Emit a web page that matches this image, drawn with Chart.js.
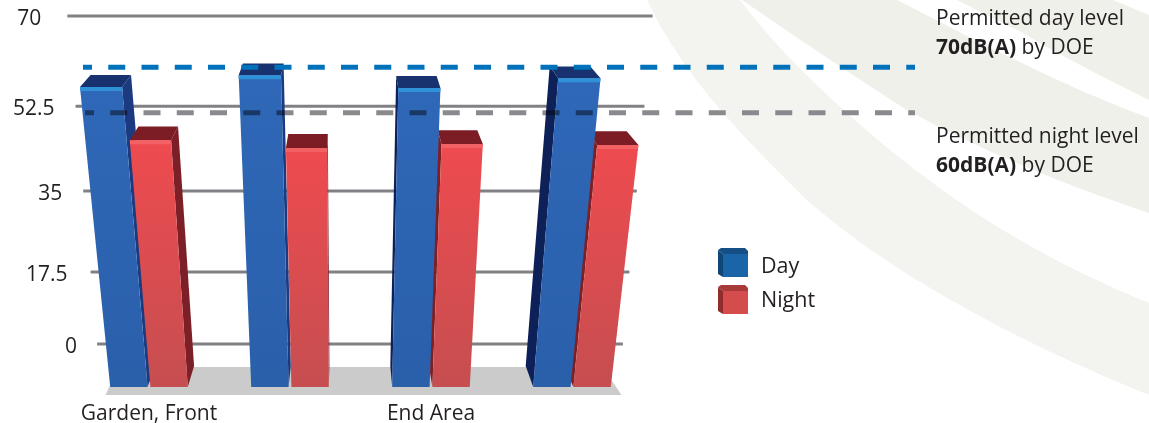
<!DOCTYPE html>
<html>
<head>
<meta charset="utf-8">
<title>Noise levels</title>
<script src="https://cdn.jsdelivr.net/npm/chart.js@4/dist/chart.umd.js"></script>
<style>
  html, body { margin: 0; background: #fff; }
  #wrap { position: relative; width: 1149px; height: 423px; overflow: hidden; }
  #wrap svg, #wrap canvas { position: absolute; left: 0; top: 0; }
</style>
</head>
<body>
<div id="wrap">
  <!-- pale swooshes behind the chart -->
  <svg width="1149" height="423" viewBox="0 0 1149 423">
    <path fill="#f3f4ef" d="M647 0 C680 70 735 130 807 200 C880 265 1000 335 1149 395 L1149 303 C1040 258 950 205 847 113 C805 75 770 40 740 0 Z"/>
    <path fill="#eff0ea" d="M742 0 C800 40 860 80 907 110 C980 150 1060 183 1149 213 L1149 118 C1060 85 975 40 897 0 Z"/>
    <path fill="#eff0ea" d="M957 0 L1023 33 C1065 58 1105 78 1149 100 L1149 15 L1113 0 Z"/>
  </svg>
  <canvas id="chart" width="1149" height="423"></canvas>
</div>
<script>
const categories = ["Garden, Front", "", "End Area", ""];
const dayValues = [56.2, 58.5, 56, 57.9];
const nightValues = [45.5, 43.9, 44.7, 44.5];
const tickValues = [70, 52.5, 35, 17.5, 0];
const dayLimit = 70;
const nightLimit = 60;
const noteLines = [
  ["Permitted day level", ""],
  ["70dB(A)", " by DOE"],
  ["Permitted night level", ""],
  ["60dB(A)", " by DOE"]
];

const FONT = '"Open Sans", sans-serif';
const INK = "#231f20";
const floorValue = -10.4;

// value -> height in the plot, the chart leans back so rows get shorter towards the floor
const heightStops = [[floorValue, 0], [0, 0.116], [17.5, 0.31], [35, 0.528], [52.5, 0.757], [70, 1]];

class ForeshortenedScale extends Chart.LinearScale {
  static id = "foreshortened";
  static defaults = Chart.LinearScale.defaults;
  getPixelForValue(value) {
    for (let i = 1; i < heightStops.length; i++) {
      const [v0, h0] = heightStops[i - 1];
      const [v1, h1] = heightStops[i];
      if (value <= v1) return this.getPixelForDecimal(h0 + (value - v0) / (v1 - v0) * (h1 - h0));
    }
    return this.getPixelForDecimal(1);
  }
}
Chart.register(ForeshortenedScale);

const barLook = {
  Day: { top: "#2f68b8", bottom: "#2a5faa", strip: "#2f92d8", lid: "#18326f", side: "#1b3a80", sideDark: "#0d2158",
         cubeFront: "#1a64a8", cubeSide: "#0f4675", cubeTop: "#134f85" },
  Night: { top: "#ee4b4f", bottom: "#c64e50", strip: "#f26265", lid: "#7c1c24", side: "#7d1f26", sideDark: "#7d1f26",
           cubeFront: "#d44c4b", cubeSide: "#8e2d2c", cubeTop: "#a83b3a" }
};

const BAR_VX = 345, BAR_K = 0.00043, GRID_VX = 360, GRID_K = 0.00035, GRID_HALF = 259;

function lean(x, y, base, vx, k) {
  return vx + (x - vx) * (1 + k * (base - y));
}

function polygon(ctx, pts, fill) {
  ctx.beginPath();
  pts.forEach((p, i) => (i ? ctx.lineTo(p[0], p[1]) : ctx.moveTo(p[0], p[1])));
  ctx.closePath();
  ctx.fillStyle = fill;
  ctx.fill();
}

function drawBar(ctx, bar, look) {
  const { x, y, base, width } = bar.getProps(["x", "y", "base", "width"]);
  const front = (px, py) => [lean(px, py, base, BAR_VX, BAR_K), py];
  // the back of the bar sits towards the vanishing point and further up
  const back = p => [p[0] - (p[0] - BAR_VX) * 0.04, p[1] - (21 - 9 * (base - p[1]) / 300)];

  const tl = front(x - width / 2, y);
  const tr = front(x + width / 2, y);
  const bl = front(x - width / 2, base);
  const br = front(x + width / 2, base);

  if (x < BAR_VX) polygon(ctx, [tr, back(tr), back(br), br], look.side);
  else polygon(ctx, [tl, back(tl), back(bl), bl], look.sideDark);
  polygon(ctx, [tl, tr, back(tr), back(tl)], look.lid);

  const grad = ctx.createLinearGradient(0, y, 0, base);
  grad.addColorStop(0, look.top);
  grad.addColorStop(1, look.bottom);
  polygon(ctx, [tl, tr, br, bl], grad);
  polygon(ctx, [tl, tr, front(x + width / 2, y + 4), front(x - width / 2, y + 4)], look.strip);
}

function drawCube(ctx, x, y, look) {
  polygon(ctx, [[x, y + 2], [x + 5, y + 6], [x + 5, y + 29], [x, y + 26]], look.cubeSide);
  polygon(ctx, [[x, y + 2], [x + 3, y], [x + 27, y], [x + 30, y + 3], [x + 30, y + 6], [x + 5, y + 6]], look.cubeTop);
  ctx.fillStyle = look.cubeFront;
  ctx.fillRect(x + 5, y + 6, 25, 23);
}

const perspectivePlugin = {
  id: "perspective",
  beforeDatasetsDraw(chart) {
    const { ctx, chartArea, scales } = chart;
    const base = chartArea.bottom;
    // floor under the bars
    polygon(ctx, [
      [chartArea.left + 40, base - 20], [chartArea.right - 40, base - 20],
      [chartArea.right - 21, base + 8], [chartArea.left + 27, base + 8]
    ], "#cbcbcb");
    // grid rows narrow towards the floor
    ctx.strokeStyle = "#808085";
    ctx.lineWidth = 3;
    tickValues.forEach(v => {
      const y = scales.y.getPixelForValue(v);
      ctx.beginPath();
      ctx.moveTo(lean(GRID_VX - GRID_HALF, y, base, GRID_VX, GRID_K), y);
      ctx.lineTo(lean(GRID_VX + GRID_HALF, y, base, GRID_VX, GRID_K), y);
      ctx.stroke();
    });
    // bars furthest from the vanishing point go first so the nearer ones cover their sides
    const bars = [];
    chart.data.datasets.forEach((ds, i) => {
      chart.getDatasetMeta(i).data.forEach(bar => bars.push({ bar, look: barLook[ds.label] }));
    });
    bars.sort((a, b) => Math.abs(b.bar.x - BAR_VX) - Math.abs(a.bar.x - BAR_VX));
    bars.forEach(({ bar, look }) => drawBar(ctx, bar, look));
  },
  beforeDatasetDraw() {
    return false;
  },
  afterDatasetsDraw(chart) {
    const { ctx, chartArea, scales } = chart;
    const limit = scales.limit;
    const rule = (value, color, x0, op) => {
      const y = limit.getPixelForValue(value);
      ctx.save();
      ctx.globalCompositeOperation = op;
      ctx.strokeStyle = color;
      ctx.lineWidth = 5;
      ctx.setLineDash([17, 16.25]);
      ctx.lineDashOffset = 8;
      ctx.beginPath();
      ctx.moveTo(x0, y);
      ctx.lineTo(915, y);
      ctx.stroke();
      ctx.restore();
    };
    rule(dayLimit, "#0072bc", 83, "source-over");
    rule(nightLimit, "#8a8a8e", 85, "multiply");

    // axis numbers sit just left of each row
    const insets = [26, 21, 21, 23, 20];
    ctx.font = "21px " + FONT;
    ctx.fillStyle = INK;
    ctx.textBaseline = "middle";
    ctx.textAlign = "right";
    tickValues.forEach((v, i) => {
      const y = scales.y.getPixelForValue(v);
      ctx.fillText(String(v), lean(GRID_VX - GRID_HALF, y, chartArea.bottom, GRID_VX, GRID_K) - insets[i], y + 3);
    });

    // legend
    ctx.textAlign = "left";
    chart.data.datasets.forEach((ds, i) => {
      drawCube(ctx, 718, 248 + i * 37, barLook[ds.label]);
      ctx.fillStyle = INK;
      ctx.font = "21.5px " + FONT;
      ctx.fillText(ds.label, 761, 267 + i * 34);
    });

    // limit notes
    const noteY = [19, 48, 137, 166];
    noteLines.forEach(([bold, plain], i) => {
      let x = 936;
      const first = plain ? bold : "";
      ctx.font = "bold 21px " + FONT;
      if (first) {
        ctx.fillText(first, x, noteY[i]);
        x += ctx.measureText(first).width;
      }
      ctx.font = "21px " + FONT;
      ctx.fillText(plain || bold, x, noteY[i]);
    });
  }
};

new Chart(document.getElementById("chart"), {
  type: "bar",
  data: {
    labels: categories,
    datasets: [
      { label: "Day", data: dayValues, base: floorValue },
      { label: "Night", data: nightValues, base: floorValue }
    ]
  },
  options: {
    responsive: false,
    animation: false,
    events: [],
    categoryPercentage: 0.57,
    barPercentage: 0.93,
    layout: { padding: { left: 78.5, right: 506.5, top: 16, bottom: 0 } },
    plugins: { legend: { display: false }, tooltip: { enabled: false } },
    scales: {
      x: {
        grid: { display: false },
        border: { display: false },
        afterFit(scale) { scale.height = 36; },
        ticks: {
          color: INK,
          font: { family: FONT, size: 21 },
          padding: 6,
          autoSkip: false,
          maxRotation: 0
        }
      },
      y: { type: "foreshortened", min: floorValue, max: 70, display: false },
      limit: { type: "linear", axis: "y", min: 0, max: 81.2, display: false }
    }
  },
  plugins: [perspectivePlugin]
});
</script>
</body>
</html>
